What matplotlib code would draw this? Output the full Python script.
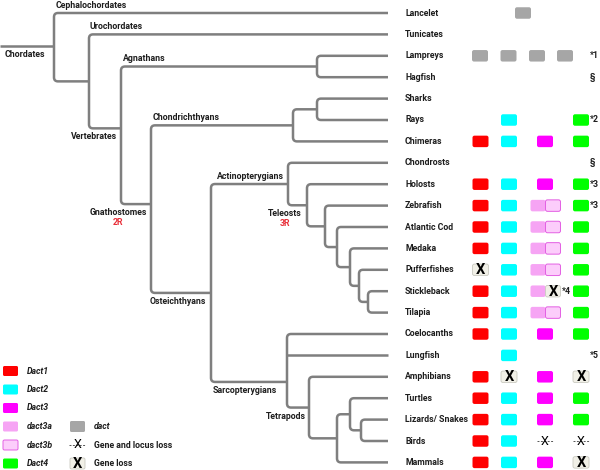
''' árbol de cordados con genes dact '''
import matplotlib
matplotlib.use('Agg')
import matplotlib.pyplot as plt
from matplotlib.path import Path
from matplotlib.patches import PathPatch, FancyBboxPatch

species = ['Lancelet', 'Tunicates', 'Lampreys', 'Hagfish', 'Sharks', 'Rays', 'Chimeras',
           'Chondrosts', 'Holosts', 'Zebrafish', 'Atlantic Cod', 'Medaka', 'Pufferfishes',
           'Stickleback', 'Tilapia', 'Coelocanths', 'Lungfish', 'Amphibians', 'Turtles',
           'Lizards/ Snakes', 'Birds', 'Mammals']

# P present, L gene loss, D gene and locus loss, AB dact3a+dact3b, AL dact3a + dact3b lost
dact1 = ['', '', '', '', '', '', 'P', '', 'P', 'P', 'P', 'P', 'L', 'P', 'P', 'P', '', 'P', 'P', 'P', 'P', 'P']
dact2 = ['', '', '', '', '', 'P', 'P', '', 'P', 'P', 'P', 'P', 'P', 'P', 'P', 'P', 'P', 'L', 'P', 'P', 'P', 'P']
dact3 = ['', '', '', '', '', '', 'P', '', 'P', 'AB', 'AB', 'AB', 'AB', 'AL', 'AB', 'P', '', 'P', 'P', 'P', 'D', 'P']
dact4 = ['', '', '', '', '', 'P', 'P', '', 'P', 'P', 'P', 'P', 'P', 'P', 'P', 'P', '', 'L', 'P', 'P', 'D', 'L']
dact_single = ['Lancelet']
dact_four = ['Lampreys']
notes = ['', '', '*1', '§', '', '*2', '', '§', '*3', '*3', '', '', '', '', '', '', '*5', '', '', '', '', '']
notes_dact3 = {'Stickleback': '*4'}


def clade(key, x, children, join=None):
    return {'key': key, 'x': x, 'children': children, 'join': join}


tree = clade('root', 54, [
    'Lancelet',
    clade('uro', 89, [
        'Tunicates',
        clade('vert', 121, [
            clade('agn', 317, ['Lampreys', 'Hagfish']),
            clade('gnat', 151, [
                clade('chon', 293, [clade('elas', 317, ['Sharks', 'Rays']), 'Chimeras']),
                clade('oste', 211, [
                    clade('act', 288, ['Chondrosts', clade('neo', 307, ['Holosts', clade('tel', 325, [
                        'Zebrafish', clade('t2', 337, ['Atlantic Cod', clade('t3', 350, [
                            'Medaka', clade('t4', 359, ['Pufferfishes', clade('t5', 368, [
                                'Stickleback', 'Tilapia'])])])])])])]),
                    clade('sarc', 287, ['Coelocanths', 'Lungfish', clade('tetr', 309, [
                        'Amphibians', clade('amn', 337, [
                            clade('saur', 350, ['Turtles', clade('diap', 361, ['Lizards/ Snakes', 'Birds'])]),
                            'Mammals'])])], join=17.24),
                ], join=13.08),
            ], join=8.93),
        ], join=5.39),
    ]),
], join=1.54)

# etiquetas de ramas: (texto, lado, desplazamiento x, subtexto)
branch_labels = {
    'Lancelet': ('Cephalochordates', 'above', 2, None),
    'Tunicates': ('Urochordates', 'above', 1, None),
    'agn': ('Agnathans', 'above', 2, None),
    'chon': ('Chondrichthyans', 'above', 2, None),
    'act': ('Actinopterygians', 'above', 6, None),
    'root': ('Chordates', 'below', -9, None),
    'vert': ('Vertebrates', 'below', -4, None),
    'gnat': ('Gnathostomes', 'below', -4, '2R'),
    'oste': ('Osteichthyans', 'below', -5, None),
    'sarc': ('Sarcopterygians', 'below', -10, None),
    'neo': ('Teleosts', 'below', -5, '3R'),
    'tetr': ('Tetrapods', 'below', -3, None),
}

ROW_PX = 21.4
TOP_PX = 13
LEAF_X = 388
LINE = '#7f7f7f'
TXT = '#1e1e1e'
FS = 6.3
COLORS = {'dact1': '#ff0000', 'dact2': '#00ffff', 'dact3': '#ff00ff', 'dact3a': '#f6a4f4',
          'dact3b': '#fccdfb', 'dact4': '#00ff00', 'dact': '#a6a6a6'}

plt.rcParams['font.family'] = ['Roboto', 'DejaVu Sans']

fig = plt.figure(figsize=(6, 4.7), dpi=100)
ax = fig.add_axes([0, 0, 1, 1])
ax.set_xlim(0, 600)
ax.set_ylim((470 - TOP_PX) / ROW_PX, -TOP_PX / ROW_PX)
ax.axis('off')


def place(node):
    if isinstance(node, str):
        return species.index(node)
    node['ys'] = [place(c) for c in node['children']]
    if node['join'] is None:
        node['join'] = (node['ys'][0] + node['ys'][-1]) / 2
    return node['join']


def tip(c):
    return LEAF_X if isinstance(c, str) else c['x']


def key(c):
    return c if isinstance(c, str) else c['key']


def branch_label(k, x0, x1, y):
    if k not in branch_labels:
        return
    text, side, dx, sub = branch_labels[k]
    if side == 'above':
        ax.annotate(text, (x0 + dx, y), xytext=(0, 8), textcoords='offset pixels',
                    ha='left', va='center', fontsize=FS, fontweight='bold', color=TXT)
    else:
        t = ax.annotate(text, (x1 + dx, y), xytext=(0, -8.5), textcoords='offset pixels',
                        ha='right', va='center', fontsize=FS, fontweight='bold', color=TXT)
        if sub:
            fig.canvas.draw()
            bb = t.get_window_extent().transformed(ax.transData.inverted())
            ax.annotate(sub, ((bb.x0 + bb.x1) / 2, y), xytext=(0, -18), textcoords='offset pixels',
                        ha='center', va='center', fontsize=FS, fontweight='bold', color='#e8303a')


def draw(node):
    x = node['x']
    rx, ry = 4, 4 / ROW_PX
    kids, ys = node['children'], node['ys']
    y0, y1 = ys[0], ys[-1]
    verts = [(tip(kids[0]), y0), (x + rx, y0), (x, y0), (x, y0 + ry), (x, y1 - ry),
             (x, y1), (x + rx, y1), (tip(kids[-1]), y1)]
    codes = [Path.MOVETO, Path.LINETO, Path.CURVE3, Path.CURVE3, Path.LINETO,
             Path.CURVE3, Path.CURVE3, Path.LINETO]
    ax.add_patch(PathPatch(Path(verts, codes), fill=False, ec=LINE, lw=1.8))
    for c, cy in zip(kids[1:-1], ys[1:-1]):
        ax.plot([x, tip(c)], [cy, cy], color=LINE, lw=1.8, solid_capstyle='butt')
    for c, cy in zip(kids, ys):
        branch_label(key(c), x, tip(c), cy)
        if not isinstance(c, str):
            draw(c)


place(tree)
ax.plot([0, tree['x']], [tree['join']] * 2, color=LINE, lw=1.8, solid_capstyle='butt')
branch_label('root', 0, tree['x'], tree['join'])
draw(tree)

for i, s in enumerate(species):
    ax.text(405, i, s, ha='left', va='center', fontsize=FS, fontweight='bold', color=TXT)

BOX_H = 11.5 / ROW_PX


def box(x, y, w, fc, ec='none', lw=0.0):
    ax.add_patch(FancyBboxPatch((x - w / 2, y - BOX_H / 2), w, BOX_H,
                                boxstyle='round,pad=0,rounding_size=2',
                                mutation_aspect=1 / ROW_PX, fc=fc, ec=ec, lw=lw))


def gene_loss(x, y, w=16):
    box(x, y, w, '#f1f0e7', ec='#c9c9c0', lw=0.6)
    ax.text(x, y + 0.03, 'X', ha='center', va='center', fontsize=10.5, fontweight='bold', color='black')


def locus_loss(x, y):
    ax.plot([x - 8, x + 8], [y, y], color='#555555', lw=0.7, ls=(0, (2, 1.5)))
    ax.text(x, y + 0.03, 'X', ha='center', va='center', fontsize=9, color='black')


def cell(status, x, y, color):
    if status == 'P':
        box(x, y, 16, color)
    elif status == 'L':
        gene_loss(x, y)
    elif status == 'D':
        locus_loss(x, y)


for i, s in enumerate(species):
    cell(dact1[i], 480.5, i, COLORS['dact1'])
    cell(dact2[i], 509, i, COLORS['dact2'])
    cell(dact4[i], 581, i, COLORS['dact4'])
    if dact3[i] in ('AB', 'AL'):
        box(538, i, 15, COLORS['dact3a'])
        if dact3[i] == 'AB':
            box(553, i, 15, COLORS['dact3b'], ec='#e35fe3', lw=0.7)
        else:
            gene_loss(553, i, 15)
    else:
        cell(dact3[i], 545, i, COLORS['dact3'])
    if s in dact_single:
        box(523, i, 16, COLORS['dact'])
    if s in dact_four:
        for gx in (480, 508.5, 537, 565):
            box(gx, i, 16, COLORS['dact'])
    if notes[i]:
        ax.text(590, i, notes[i], ha='left', va='center', fontsize=FS, fontweight='bold', color=TXT)
    if s in notes_dact3:
        ax.text(562, i, notes_dact3[s], ha='left', va='center', fontsize=FS, fontweight='bold', color=TXT)

# leyenda
leg = fig.add_axes([0, 0, 1, 1])
leg.set_xlim(0, 600)
leg.set_ylim(470, 0)
leg.axis('off')
legend_left = [('Dact1', 'dact1'), ('Dact2', 'dact2'), ('Dact3', 'dact3'),
               ('dact3a', 'dact3a'), ('dact3b', 'dact3b'), ('Dact4', 'dact4')]
for j, (name, c) in enumerate(legend_left):
    ly = 371 + j * 18.5
    ec = '#e35fe3' if c == 'dact3b' else 'none'
    leg.add_patch(FancyBboxPatch((3, ly - 5), 15, 10, boxstyle='round,pad=0,rounding_size=1.5',
                                 fc=COLORS[c], ec=ec, lw=0.7))
    leg.text(27, ly, name, ha='left', va='center', fontsize=FS, fontweight='bold',
             style='italic', color=TXT)

ly = 371 + 3 * 18.5
leg.add_patch(FancyBboxPatch((70, ly - 5.5), 15, 11, boxstyle='round,pad=0,rounding_size=1.5',
                             fc=COLORS['dact'], ec='none'))
leg.text(94, ly, 'dact', ha='left', va='center', fontsize=FS, fontweight='bold',
         style='italic', color=TXT)
ly = 371 + 4 * 18.5
leg.plot([69, 86], [ly, ly], color='#555555', lw=0.7, ls=(0, (2, 1.5)))
leg.text(77.5, ly, 'X', ha='center', va='center', fontsize=9, color='black')
leg.text(94, ly, 'Gene and locus loss', ha='left', va='center', fontsize=FS, fontweight='bold', color=TXT)
ly = 371 + 5 * 18.5
leg.add_patch(FancyBboxPatch((70, ly - 5.5), 15, 11, boxstyle='round,pad=0,rounding_size=1.5',
                             fc='#f1f0e7', ec='#c9c9c0', lw=0.6))
leg.text(77.5, ly, 'X', ha='center', va='center', fontsize=10.5, fontweight='bold', color='black')
leg.text(94, ly, 'Gene loss', ha='left', va='center', fontsize=FS, fontweight='bold', color=TXT)

fig.savefig('out.png', dpi=100)
